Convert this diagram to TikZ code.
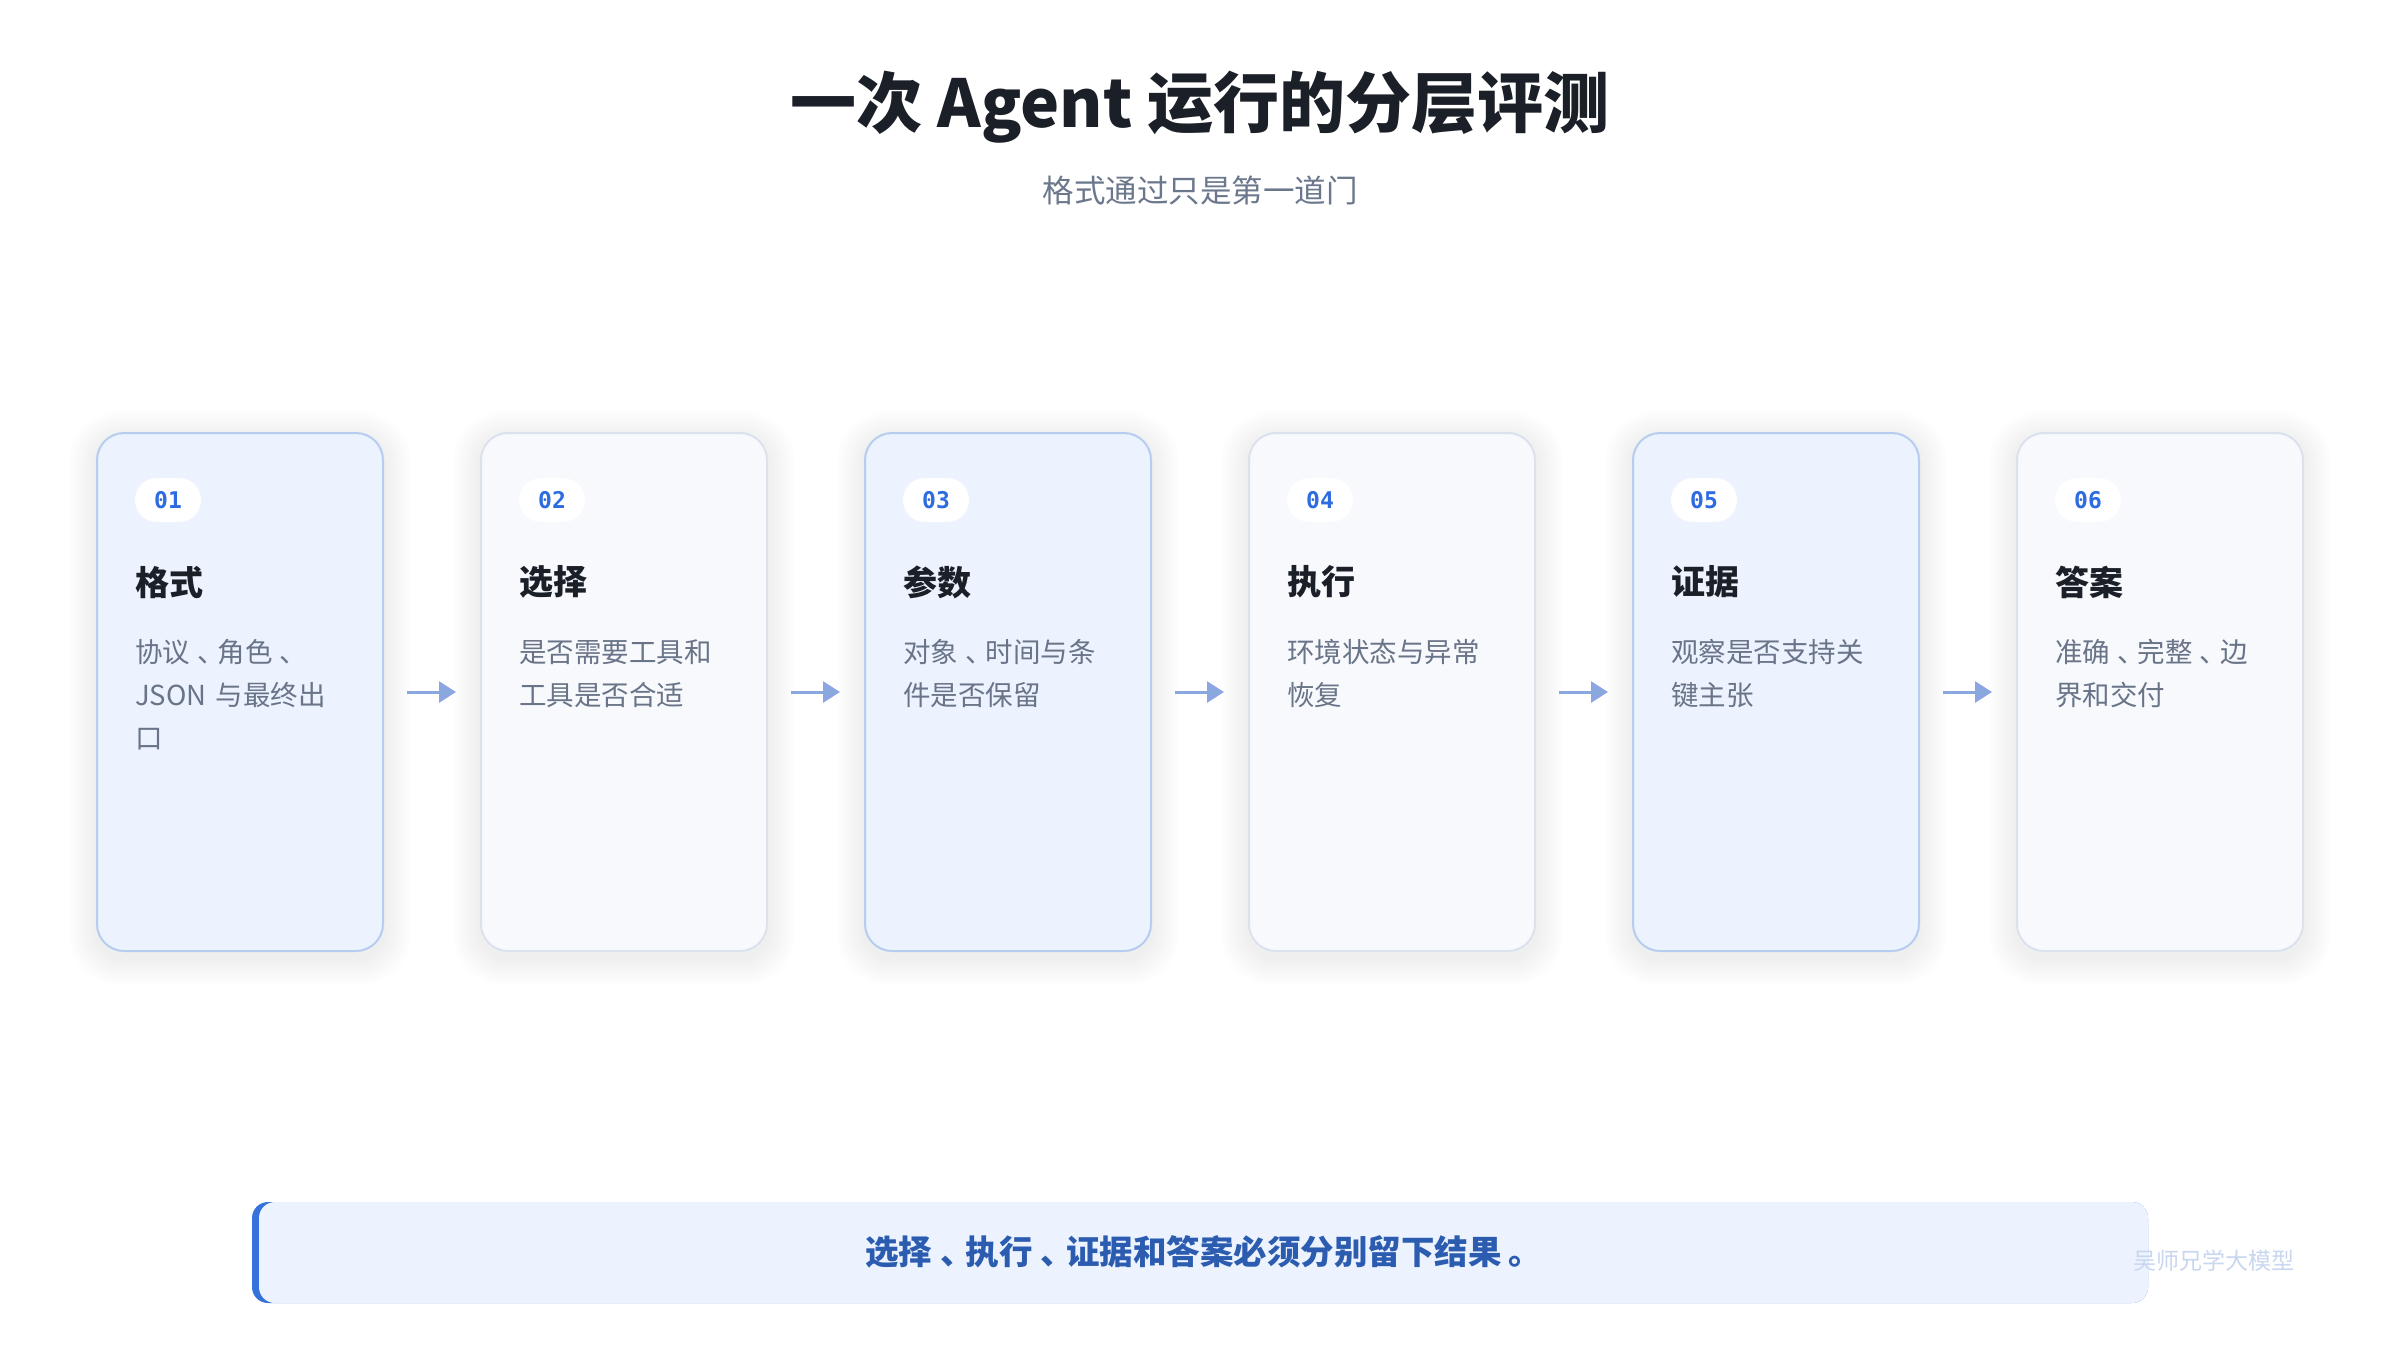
\documentclass[tikz,border=0pt]{standalone}
\usepackage{fontspec}
\setmainfont{Noto Sans CJK SC}
\newfontfamily\monofont{DejaVu Sans Mono}
\usetikzlibrary{arrows.meta}
\definecolor{titlec}{HTML}{1B1F27}
\definecolor{subc}{HTML}{6B778C}
\definecolor{descc}{HTML}{697488}
\definecolor{numc}{HTML}{2D6BE0}
\definecolor{bluefill}{HTML}{ECF2FE}
\definecolor{blueline}{HTML}{B7CDF0}
\definecolor{grayfill}{HTML}{F7F9FC}
\definecolor{grayline}{HTML}{DCE2EB}
\definecolor{arrc}{HTML}{8AA8DF}
\definecolor{bartextc}{HTML}{2B5CB0}
\definecolor{barblue}{HTML}{3572DC}
\definecolor{barfill}{HTML}{ECF2FE}
\definecolor{wmc}{HTML}{C9D6F0}
\newcommand{\dun}{\kern.25em、\kern-.25em}
\tikzset{
  cardbox/.style={rectangle, minimum width=286pt, minimum height=518pt, rounded corners=27pt, line width=2pt, inner sep=0pt},
  bluecard/.style={cardbox, fill=bluefill, draw=blueline},
  graycard/.style={cardbox, fill=grayfill, draw=grayline},
  badge/.style={rectangle, fill=white, rounded corners=22pt, minimum width=66pt, minimum height=44pt, inner sep=0pt, text=numc, font=\monofont\bfseries\fontsize{23}{25}\selectfont},
  ctitle/.style={anchor=west, inner sep=0pt, text=titlec, font=\bfseries\fontsize{34}{40}\selectfont},
  desc/.style={anchor=base west, inner sep=0pt, text=descc, text width=240pt, align=left, font=\fontsize{27.5}{43}\selectfont},
  arr/.style={draw=arrc, line width=3pt, -{Triangle[length=17pt,width=21pt]}},
}
\newcommand{\cardshadow}[1]{%
  \foreach \i in {1,...,8}{%
    \fill[black, opacity=0.006, rounded corners=27pt+\i*3pt]
      ({#1-143-\i*3.5},{433+6-\i*3.5}) rectangle ({#1+143+\i*3.5},{951+6+\i*3.5});
  }%
}
\begin{document}
\begin{tikzpicture}[x=1pt,y=-1pt]
\useasboundingbox (0,0) rectangle (2400,1350);
\fill[white] (0,0) rectangle (2400,1350);

% title
\node[inner sep=0pt, text=titlec, font=\bfseries\fontsize{66}{72}\selectfont] (title) at (1200,107) {一次 Agent 运行的分层评测};
\node[inner sep=0pt, text=subc, font=\fontsize{31.5}{36}\selectfont] (subtitle) at (1200,190) {格式通过只是第一道门};

% shadows
\foreach \cx in {240,624,1008,1392,1776,2160}{\cardshadow{\cx}}

% cards
\node[bluecard] (c1) at (240,692) {};
\node[graycard] (c2) at (624,692) {};
\node[bluecard] (c3) at (1008,692) {};
\node[graycard] (c4) at (1392,692) {};
\node[bluecard] (c5) at (1776,692) {};
\node[graycard] (c6) at (2160,692) {};

% badges
\node[badge] (b1) at (168,500) {01};
\node[badge] (b2) at (552,500) {02};
\node[badge] (b3) at (936,500) {03};
\node[badge] (b4) at (1320,500) {04};
\node[badge] (b5) at (1704,500) {05};
\node[badge] (b6) at (2088,500) {06};

% card titles
\node[ctitle] (t1) at (135,582) {格式};
\node[ctitle] (t2) at (519,582) {选择};
\node[ctitle] (t3) at (903,582) {参数};
\node[ctitle] (t4) at (1287,582) {执行};
\node[ctitle] (t5) at (1671,582) {证据};
\node[ctitle] (t6) at (2055,582) {答案};

% descriptions
\node[desc] (d1) at (135,662) {协议\dun 角色\dun\\JSON 与最终出\\口};
\node[desc] (d2) at (519,662) {是否需要工具和\\工具是否合适};
\node[desc] (d3) at (903,662) {对象\dun 时间与条\\件是否保留};
\node[desc] (d4) at (1287,662) {环境状态与异常\\恢复};
\node[desc] (d5) at (1671,662) {观察是否支持关\\键主张};
\node[desc] (d6) at (2055,662) {准确\dun 完整\dun 边\\界和交付};

% arrows
\draw[arr] ([xshift=23pt]c1.east) -- ([xshift=-24pt]c2.west);
\draw[arr] ([xshift=23pt]c2.east) -- ([xshift=-24pt]c3.west);
\draw[arr] ([xshift=23pt]c3.east) -- ([xshift=-24pt]c4.west);
\draw[arr] ([xshift=23pt]c4.east) -- ([xshift=-24pt]c5.west);
\draw[arr] ([xshift=23pt]c5.east) -- ([xshift=-24pt]c6.west);

% bottom bar
\fill[barblue, rounded corners=16pt] (252,1202) rectangle (2148,1303);
\fill[barfill, rounded corners=16pt] (259,1202) rectangle (2148,1303);
\node[inner sep=0pt, text=bartextc, font=\bfseries\fontsize{33.5}{38}\selectfont] (bar) at (1200,1252) {选择\dun 执行\dun 证据和答案必须分别留下结果\kern.2em。\kern-.2em};

% watermark
\node[inner sep=0pt, text=wmc, font=\fontsize{23}{26}\selectfont] (wm) at (2214,1261) {吴师兄学大模型};
\end{tikzpicture}
\end{document}
